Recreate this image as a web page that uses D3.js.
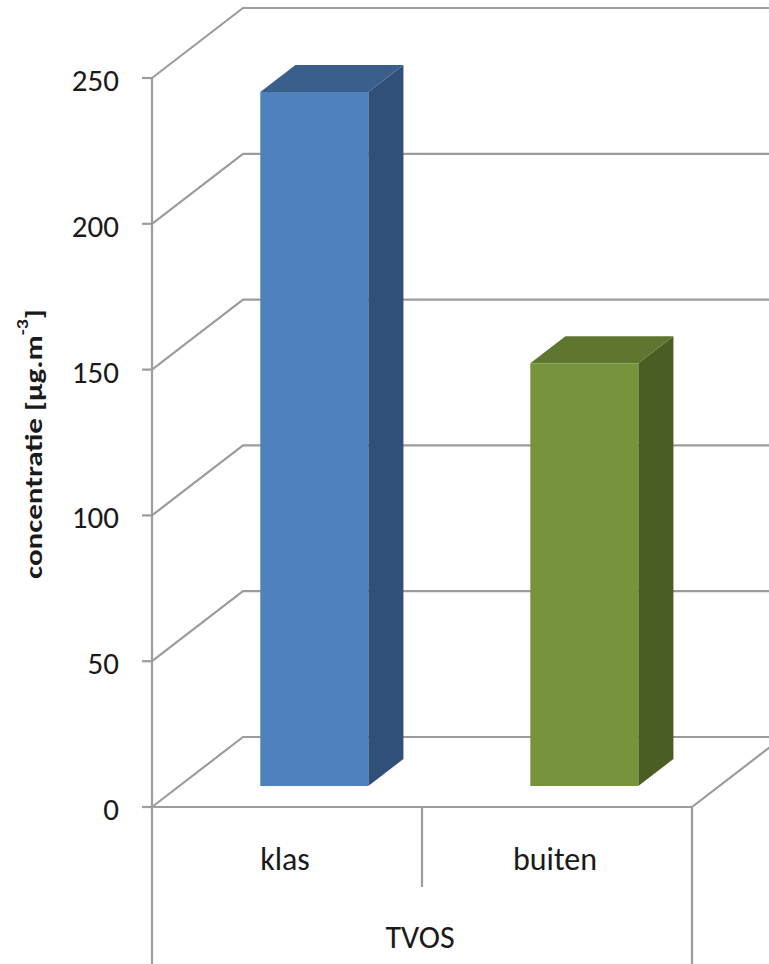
<!DOCTYPE html>
<html>
<head>
<meta charset="utf-8">
<script src="https://cdn.jsdelivr.net/npm/d3@7"></script>
<style>
  html, body { margin: 0; padding: 0; background: #fff; }
  svg { display: block; }
  text { font-family: Carlito, Lato, "Open Sans", sans-serif; fill: #1a1a1a; }
</style>
</head>
<body>
<script>
// ---- data ----
const categories = ["klas", "buiten"];
const values = [238, 145];
const groupLabel = "TVOS";
const yTicks = [0, 50, 100, 150, 200, 250];
const yTitle = "concentratie [µg.m";
const yTitleSup = "-3";
const yTitleEnd = "]";
const frontColors = ["#4F81BD", "#77933C"];
const sideColors = ["#30507A", "#4A5E24"];
const topColors = ["#3B5F8C", "#5E7630"];

// ---- layout ----
const W = 769, H = 964;
const svg = d3.select("body").append("svg").attr("width", W).attr("height", H);

const y = d3.scaleLinear().domain([0, 250]).range([807, 78]);
const x = d3.scaleBand().domain(categories).range([152, 692]);
const DX = 91, DY = -70; // full depth offset
const proj = (px, py, d) => [px + d * DX, py + d * DY];
const gridColor = "#9c9c9c";

const grid = svg.append("g").attr("fill", "none").attr("stroke", gridColor).attr("stroke-width", 2.2);
const x0 = x.range()[0], x1 = x.range()[1];

// gridlines: diagonal on left wall + back wall horizontal
yTicks.forEach(t => {
  const a = [x0, y(t)];
  const b = proj(x0, y(t), 1);
  const c = proj(x1, y(t), 1);
  grid.append("path").attr("d", d3.line()([a, b, c]));
});
// floor
const f0 = [x0, y(0)], f1 = [x1, y(0)], f2 = proj(x1, y(0), 1);
grid.append("path").attr("d", d3.line()([f0, f1, f2]));
// front axis line extended down to bottom of label table
grid.append("line").attr("x1", x0).attr("x2", x0).attr("y1", y(250)).attr("y2", H);
// right edge of table
grid.append("line").attr("x1", x1).attr("x2", x1).attr("y1", y(0)).attr("y2", H);
// divider between categories
grid.append("line").attr("x1", x(categories[1])).attr("x2", x(categories[1]))
  .attr("y1", y(0)).attr("y2", 887);
// tick marks
yTicks.forEach(t => {
  grid.append("line").attr("x1", x0 - 10).attr("x2", x0).attr("y1", y(t)).attr("y2", y(t));
});

// tick labels
svg.append("g").selectAll("text").data(yTicks).join("text")
  .attr("x", 119).attr("y", d => y(d) + 2)
  .attr("text-anchor", "end").attr("dominant-baseline", "central")
  .attr("font-size", 31).text(d => d);

// bars
const dFront = 0.3, dBack = 0.686;
const bw = x.bandwidth() * 0.4;
const bars = svg.append("g");
categories.forEach((c, i) => {
  const bx0 = x(c) + (x.bandwidth() - bw) / 2;
  const bx1 = bx0 + bw;
  const yt = y(values[i]), yb = y(0);
  const A = proj(bx0, yt, dFront), B = proj(bx1, yt, dFront), C = proj(bx1, yb, dFront), D = proj(bx0, yb, dFront);
  const B2 = proj(bx1, yt, dBack), C2 = proj(bx1, yb, dBack), A2 = proj(bx0, yt, dBack);
  bars.append("path").attr("d", d3.line()([B, B2, C2, C]) + "Z").attr("fill", sideColors[i]);
  bars.append("path").attr("d", d3.line()([A, A2, B2, B]) + "Z").attr("fill", topColors[i]);
  bars.append("path").attr("d", d3.line()([A, B, C, D]) + "Z").attr("fill", frontColors[i]);
});

// category labels
svg.append("g").selectAll("text").data(categories).join("text")
  .attr("x", d => x(d) + x.bandwidth() / 2 - 2).attr("y", 870)
  .attr("text-anchor", "middle").attr("font-size", 32).text(d => d);
svg.append("text").attr("x", (x0 + x1) / 2 - 2).attr("y", 948)
  .attr("text-anchor", "middle").attr("font-size", 32).text(groupLabel);

// y title
const tt = svg.append("text")
  .attr("transform", "translate(33,444) rotate(-90) scale(1.24,1)")
  .attr("text-anchor", "middle").attr("dominant-baseline", "central")
  .attr("font-size", 25).attr("font-weight", "bold");
tt.append("tspan").text(yTitle);
tt.append("tspan").attr("font-size", 16).attr("dy", -10).text(yTitleSup);
tt.append("tspan").attr("dy", 10).text(yTitleEnd);
</script>
</body>
</html>
